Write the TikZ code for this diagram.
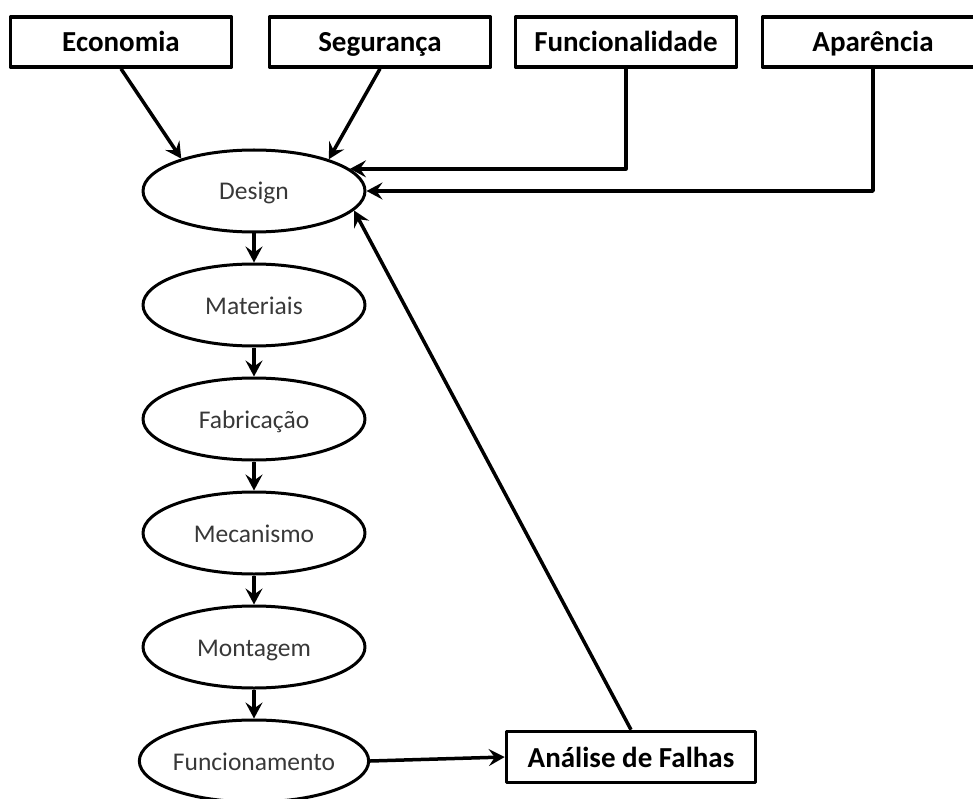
\documentclass[tikz,border=0pt]{standalone}
\usepackage{fontspec}
\setmainfont{Carlito}
\usetikzlibrary{arrows.meta,shapes.geometric}
\begin{document}
\begin{tikzpicture}[x=1pt,y=-1pt,line join=round,>={Stealth[length=16pt,width=17pt,inset=6pt]},
	caixa/.style={draw,line width=3.5pt,minimum width=221pt,minimum height=50pt,inner sep=0pt,text height=24pt,text depth=4pt,font=\fontsize{29}{34}\selectfont\bfseries},
	etapa/.style={draw,ellipse,line width=3pt,minimum width=222pt,minimum height=82pt,inner sep=0pt,text height=22pt,text depth=4pt,text=black!78,font=\fontsize{25.5}{30}\selectfont},
	seta/.style={->,line width=3.5pt}]
	\useasboundingbox (0,0) rectangle (973,799);
	% criterios
	\foreach \n/\x/\t in {eco/121/Economia,seg/380/Segurança,fun/626/Funcionalidade,apa/873/Aparência}
		\node[caixa] (\n) at (\x,42) {\t};
	% etapas
	\foreach \n/\t [count=\i from 0] in {design/Design,mat/Materiais,fab/Fabricação,mec/Mecanismo,mon/Montagem,fcn/Funcionamento}
		\node[etapa] (\n) at (254,191+114*\i) {\t};
	\node[caixa,minimum width=249pt,minimum height=51pt] (falhas) at (631,757) {Análise de Falhas};
	\foreach \a/\b in {design/mat,mat/fab,fab/mec,mec/mon,mon/fcn}
		\draw[seta] (\a)--(\b);
	\draw[seta] (eco.south)--(design.156);
	\draw[seta] (seg.south)--(design.23);
	\draw[seta] (fun.south)|-(design.13);
	\draw[seta] (apa.south)|-(design.east);
	\draw[seta] (fcn.east)--(falhas.west);
	\draw[seta] (falhas.north)--(design.-11);
\end{tikzpicture}
\end{document}
